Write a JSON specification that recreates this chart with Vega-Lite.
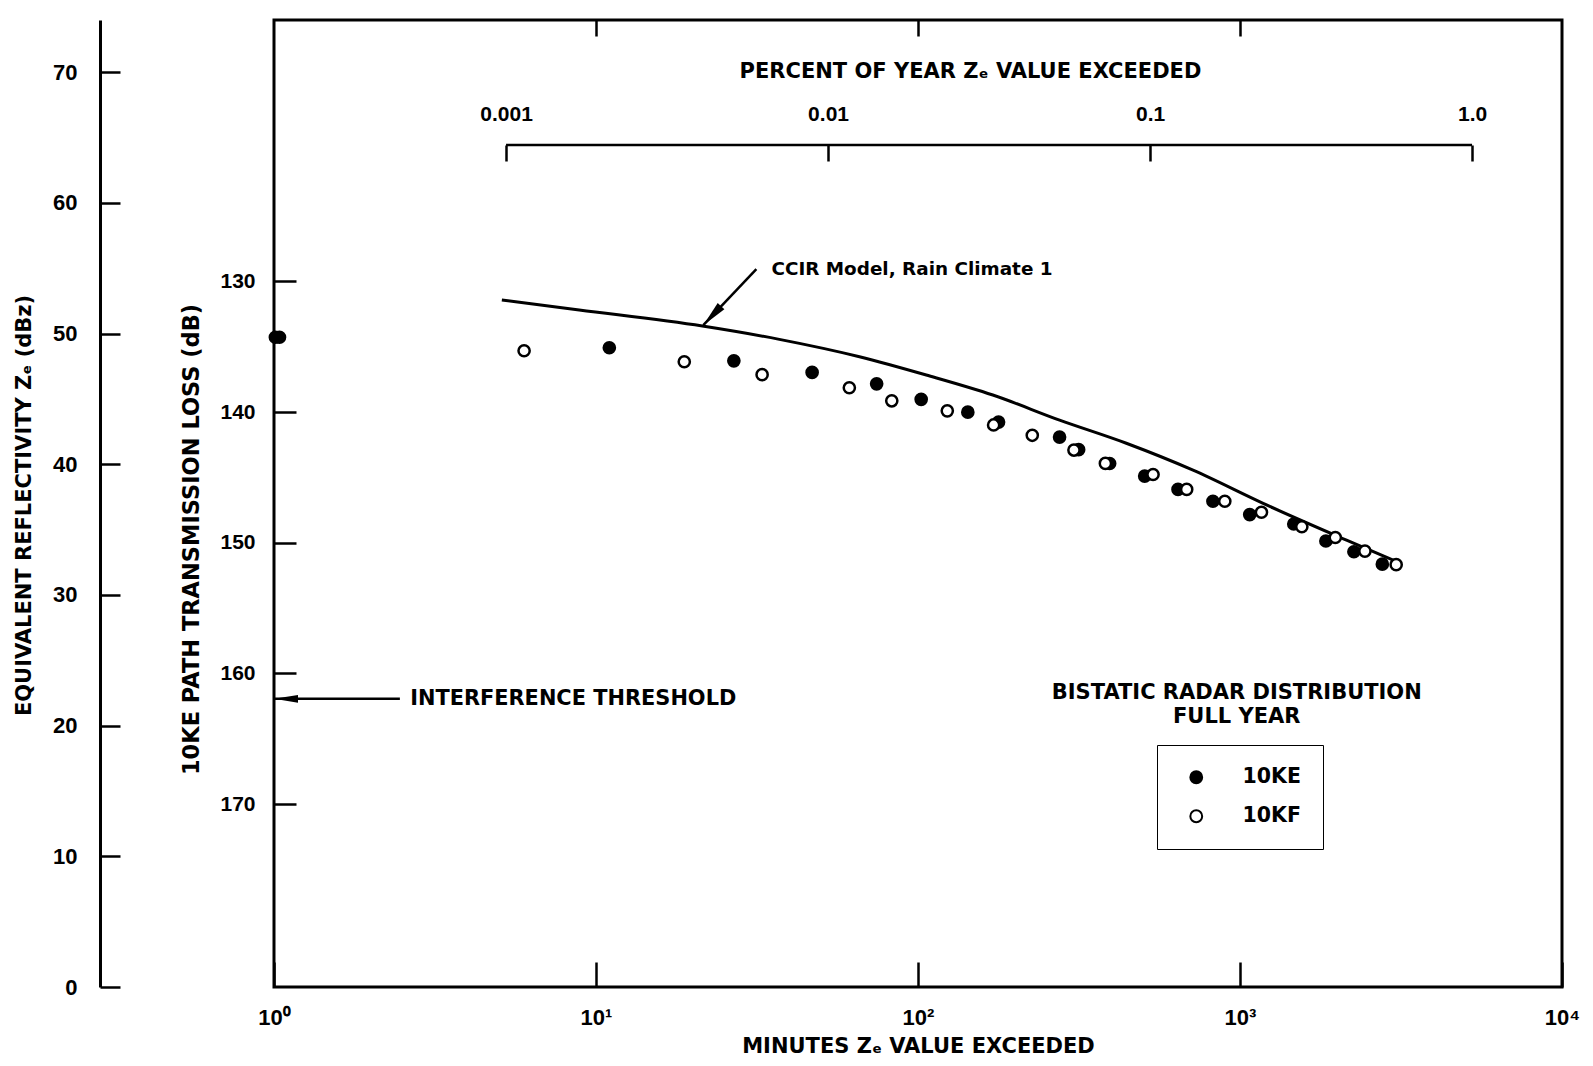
{
  "$schema": "https://vega.github.io/schema/vega-lite/v6.json",
  "width": 1288,
  "height": 967,
  "autosize": {"type": "none"},
  "padding": {"left": 274, "top": 20, "right": 31, "bottom": 79},
  "background": "white",
  "config": {
    "view": {"stroke": "black", "strokeWidth": 3},
    "font": "DejaVu Sans",
    "axis": {
      "grid": false,
      "domainColor": "black",
      "tickColor": "black",
      "labelColor": "black",
      "titleColor": "black",
      "labelFont": "Liberation Sans",
      "labelFontWeight": "bold",
      "labelFontSize": 21,
      "titleFont": "DejaVu Sans",
      "titleFontWeight": "bold",
      "titleFontSize": 21,
      "tickWidth": 2.5,
      "domainWidth": 3,
      "labelFlush": false,
      "labelOverlap": false
    }
  },
  "datasets": {
    "measured": [
      {"series": "10KE", "minutes": 1.01, "loss": 134.28},
      {"series": "10KE", "minutes": 1.04, "loss": 134.28},
      {"series": "10KE", "minutes": 11.0, "loss": 135.08},
      {"series": "10KE", "minutes": 26.8, "loss": 136.08},
      {"series": "10KE", "minutes": 46.9, "loss": 136.97},
      {"series": "10KE", "minutes": 74.4, "loss": 137.84},
      {"series": "10KE", "minutes": 102.3, "loss": 139.03},
      {"series": "10KE", "minutes": 142.8, "loss": 140.01},
      {"series": "10KE", "minutes": 177.9, "loss": 140.77},
      {"series": "10KE", "minutes": 275.2, "loss": 141.92},
      {"series": "10KE", "minutes": 315.4, "loss": 142.88},
      {"series": "10KE", "minutes": 393.7, "loss": 143.94},
      {"series": "10KE", "minutes": 505.8, "loss": 144.9},
      {"series": "10KE", "minutes": 642, "loss": 145.92},
      {"series": "10KE", "minutes": 824, "loss": 146.83},
      {"series": "10KE", "minutes": 1072, "loss": 147.85},
      {"series": "10KE", "minutes": 1469, "loss": 148.57},
      {"series": "10KE", "minutes": 1848, "loss": 149.87},
      {"series": "10KE", "minutes": 2258, "loss": 150.69},
      {"series": "10KE", "minutes": 2767, "loss": 151.64},
      {"series": "10KF", "minutes": 5.98, "loss": 135.31},
      {"series": "10KF", "minutes": 18.8, "loss": 136.15},
      {"series": "10KF", "minutes": 32.8, "loss": 137.14},
      {"series": "10KF", "minutes": 61.2, "loss": 138.14},
      {"series": "10KF", "minutes": 82.9, "loss": 139.14},
      {"series": "10KF", "minutes": 123.3, "loss": 139.91},
      {"series": "10KF", "minutes": 171.7, "loss": 140.99},
      {"series": "10KF", "minutes": 226.4, "loss": 141.78},
      {"series": "10KF", "minutes": 305, "loss": 142.91},
      {"series": "10KF", "minutes": 381.9, "loss": 143.93},
      {"series": "10KF", "minutes": 537, "loss": 144.78},
      {"series": "10KF", "minutes": 683, "loss": 145.92},
      {"series": "10KF", "minutes": 897, "loss": 146.83},
      {"series": "10KF", "minutes": 1166, "loss": 147.67},
      {"series": "10KF", "minutes": 1556, "loss": 148.78},
      {"series": "10KF", "minutes": 1977, "loss": 149.6},
      {"series": "10KF", "minutes": 2443, "loss": 150.64},
      {"series": "10KF", "minutes": 3055, "loss": 151.68}
    ],
    "ccir": [
      {"minutes": 5.1, "loss": 131.43},
      {"minutes": 8.87, "loss": 132.19},
      {"minutes": 21.4, "loss": 133.42},
      {"minutes": 37.1, "loss": 134.44},
      {"minutes": 65.8, "loss": 135.77},
      {"minutes": 106.1, "loss": 137.17},
      {"minutes": 170.8, "loss": 138.7},
      {"minutes": 275.2, "loss": 140.62},
      {"minutes": 443.6, "loss": 142.39},
      {"minutes": 714.8, "loss": 144.45},
      {"minutes": 1180, "loss": 146.99},
      {"minutes": 2142, "loss": 149.8},
      {"minutes": 2990, "loss": 151.33}
    ],
    "threshold": [{"minutes": 1.0, "minutes_end": 2.46, "loss": 161.95}],
    "threshold_note": [{"minutes": 2.647, "loss": 161.95, "label": "INTERFERENCE THRESHOLD"}],
    "ccir_arrow": [{"minutes": 31.48, "minutes_end": 21.54, "loss": 129.06, "loss_end": 133.35}],
    "ccir_note": [{"minutes": 35.05, "loss": 129.06, "label": "CCIR Model, Rain Climate 1"}],
    "legend_title": [
      {"minutes": 977, "loss": 161.5, "label": "BISTATIC RADAR DISTRIBUTION"},
      {"minutes": 977, "loss": 163.34, "label": "FULL YEAR"}
    ],
    "percent_bracket": [{"percent_from": 0.001, "percent_to": 1.0}]
  },
  "resolve": {
    "scale": {"x": "independent"},
    "axis": {"x": "independent", "y": "independent"}
  },
  "layer": [
    {
      "data": {"name": "ccir"},
      "mark": {"type": "line", "stroke": "black", "strokeWidth": 3, "interpolate": "monotone"},
      "encoding": {
        "x": {
          "field": "minutes", "type": "quantitative",
          "scale": {"type": "log", "domain": [1, 10000]},
          "axis": {"orient": "top", "values": [10, 100, 1000], "labels": false, "domain": false, "tickSize": -16, "title": null}
        },
        "y": {
          "field": "loss", "type": "quantitative",
          "scale": {"domain": [110, 184], "reverse": true, "nice": false, "zero": false},
          "axis": null
        }
      }
    },
    {
      "data": {"name": "measured"},
      "mark": {"type": "point", "filled": true, "size": 125, "stroke": "black", "strokeWidth": 2.5, "opacity": 1},
      "encoding": {
        "x": {
          "field": "minutes", "type": "quantitative",
          "scale": {"type": "log", "domain": [1, 10000]},
          "axis": {
            "orient": "bottom",
            "values": [1, 10, 100, 1000, 10000],
            "labelExpr": "'10' + ['⁰','¹','²','³','⁴'][round(log(datum.value)/LN10)]",
            "labelFontSize": 22,
            "tickSize": -25,
            "labelPadding": 45,
            "domain": false,
            "title": "MINUTES Zₑ VALUE EXCEEDED",
            "titleBaseline": "middle",
            "titleY": 59
          }
        },
        "y": {
          "field": "loss", "type": "quantitative",
          "scale": {"domain": [110, 184], "reverse": true, "nice": false, "zero": false},
          "axis": {
            "orient": "left",
            "values": [130, 140, 150, 160, 170],
            "tickSize": -22,
            "labelPadding": 41,
            "domain": false,
            "title": "10KE PATH TRANSMISSION LOSS (dB)",
            "titleFontSize": 22.5,
            "titleX": -83,
            "titleY": 519,
            "titleBaseline": "middle"
          }
        },
        "fill": {
          "field": "series", "type": "nominal",
          "scale": {"domain": ["10KE", "10KF"], "range": ["black", "white"]},
          "legend": {
            "title": null,
            "orient": "none",
            "legendX": 883,
            "legendY": 725,
            "padding": 22,
            "strokeColor": "black",
            "symbolType": "circle",
            "symbolSize": 140,
            "symbolStrokeColor": "black",
            "symbolStrokeWidth": 2,
            "symbolOffset": 7,
            "labelOffset": 36,
            "rowPadding": 18,
            "labelFont": "DejaVu Sans",
            "labelFontWeight": "bold",
            "labelFontSize": 20.5,
            "labelColor": "black",
            "encode": {"legend": {"update": {"strokeWidth": {"value": 2.5}}}}
          }
        }
      }
    },
    {
      "data": {"name": "threshold"},
      "mark": {"type": "rule", "stroke": "black", "strokeWidth": 2.5},
      "encoding": {
        "x": {"field": "minutes", "type": "quantitative", "scale": {"type": "log", "domain": [1, 10000]}, "axis": null},
        "x2": {"field": "minutes_end"},
        "y": {
          "field": "loss", "type": "quantitative",
          "scale": {"domain": [110, 184], "reverse": true, "nice": false, "zero": false},
          "axis": {
            "orient": "left",
            "offset": 174,
            "values": [114, 124, 134, 144, 154, 164, 174, 184],
            "labelExpr": "format(184 - datum.value, 'd')",
            "labelFontSize": 22,
            "tickSize": -20,
            "labelPadding": 43,
            "domain": true,
            "domainWidth": 3,
            "title": "EQUIVALENT REFLECTIVITY Zₑ (dBz)",
            "titleX": -76,
            "titleY": 485,
            "titleBaseline": "middle"
          }
        }
      }
    },
    {
      "data": {"name": "threshold"},
      "mark": {"type": "point", "shape": "M0,0L0.33,2L-0.33,2Z", "size": 576, "filled": true, "fill": "black", "opacity": 1, "angle": 270},
      "encoding": {
        "x": {"field": "minutes", "type": "quantitative", "scale": {"type": "log", "domain": [1, 10000]}, "axis": null},
        "y": {"field": "loss", "type": "quantitative", "scale": {"domain": [110, 184], "reverse": true, "nice": false, "zero": false}, "axis": null}
      }
    },
    {
      "data": {"name": "threshold_note"},
      "mark": {"type": "text", "align": "left", "baseline": "middle", "font": "DejaVu Sans", "fontWeight": "bold", "fontSize": 20.9, "fill": "black"},
      "encoding": {
        "x": {"field": "minutes", "type": "quantitative", "scale": {"type": "log", "domain": [1, 10000]}, "axis": null},
        "y": {"field": "loss", "type": "quantitative", "scale": {"domain": [110, 184], "reverse": true, "nice": false, "zero": false}, "axis": null},
        "text": {"field": "label"}
      }
    },
    {
      "data": {"name": "ccir_arrow"},
      "mark": {"type": "rule", "stroke": "black", "strokeWidth": 2.5},
      "encoding": {
        "x": {"field": "minutes", "type": "quantitative", "scale": {"type": "log", "domain": [1, 10000]}, "axis": null},
        "x2": {"field": "minutes_end"},
        "y": {"field": "loss", "type": "quantitative", "scale": {"domain": [110, 184], "reverse": true, "nice": false, "zero": false}, "axis": null},
        "y2": {"field": "loss_end"}
      }
    },
    {
      "data": {"name": "ccir_arrow"},
      "mark": {"type": "point", "shape": "M0,0L0.35,2L-0.35,2Z", "size": 676, "filled": true, "fill": "black", "opacity": 1, "angle": 223},
      "encoding": {
        "x": {"field": "minutes_end", "type": "quantitative", "scale": {"type": "log", "domain": [1, 10000]}, "axis": null},
        "y": {"field": "loss_end", "type": "quantitative", "scale": {"domain": [110, 184], "reverse": true, "nice": false, "zero": false}, "axis": null}
      }
    },
    {
      "data": {"name": "ccir_note"},
      "mark": {"type": "text", "align": "left", "baseline": "middle", "font": "DejaVu Sans", "fontWeight": "bold", "fontSize": 18.4, "fill": "black"},
      "encoding": {
        "x": {"field": "minutes", "type": "quantitative", "scale": {"type": "log", "domain": [1, 10000]}, "axis": null},
        "y": {"field": "loss", "type": "quantitative", "scale": {"domain": [110, 184], "reverse": true, "nice": false, "zero": false}, "axis": null},
        "text": {"field": "label"}
      }
    },
    {
      "data": {"name": "legend_title"},
      "mark": {"type": "text", "align": "center", "baseline": "middle", "font": "DejaVu Sans", "fontWeight": "bold", "fontSize": 21, "fill": "black"},
      "encoding": {
        "x": {"field": "minutes", "type": "quantitative", "scale": {"type": "log", "domain": [1, 10000]}, "axis": null},
        "y": {"field": "loss", "type": "quantitative", "scale": {"domain": [110, 184], "reverse": true, "nice": false, "zero": false}, "axis": null},
        "text": {"field": "label"}
      }
    },
    {
      "data": {"name": "percent_bracket"},
      "mark": {"type": "rule", "stroke": "black", "strokeWidth": 2.5},
      "encoding": {
        "x": {
          "field": "percent_from", "type": "quantitative",
          "scale": {"type": "log", "domain": [0.000190259, 1.90259]},
          "axis": {
            "orient": "top",
            "offset": -125,
            "values": [0.001, 0.01, 0.1, 1],
            "labelExpr": "datum.value >= 1 ? '1.0' : '' + datum.value",
            "tickSize": -16,
            "labelPadding": 37,
            "domain": false,
            "title": "PERCENT OF YEAR Zₑ VALUE EXCEEDED",
            "titleX": 696,
            "titleY": -74,
            "titleBaseline": "middle"
          }
        },
        "x2": {"field": "percent_to"},
        "y": {"datum": 119.57, "type": "quantitative", "scale": {"domain": [110, 184], "reverse": true, "nice": false, "zero": false}, "axis": null}
      }
    }
  ]
}
